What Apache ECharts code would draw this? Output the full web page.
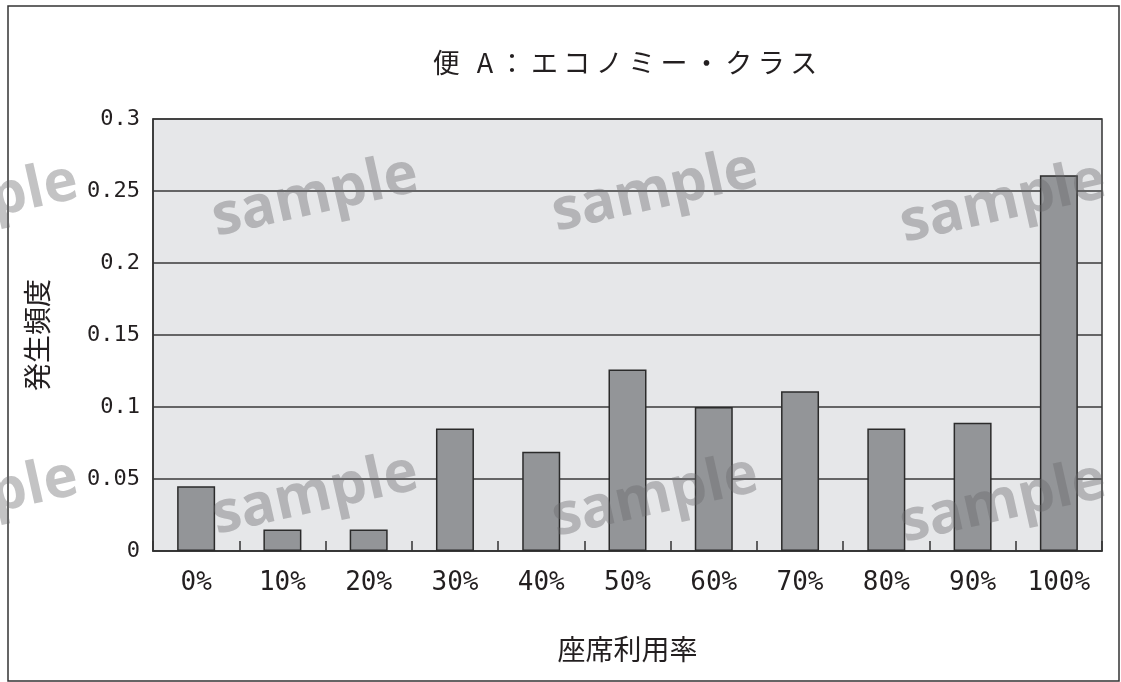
<!DOCTYPE html>
<html>
<head>
<meta charset="utf-8">
<title>便A：エコノミー・クラス</title>
<script src="https://cdn.jsdelivr.net/npm/echarts@6/dist/echarts.min.js"></script>
<style>
  html, body { margin: 0; padding: 0; background: #ffffff; }
  #chart { width: 1121px; height: 682px; }
</style>
</head>
<body>
<div id="chart"></div>
<script>
// Seat utilisation classes and the observed frequency for each
const categories = ['0%', '10%', '20%', '30%', '40%', '50%', '60%', '70%', '80%', '90%', '100%'];
const frequency = [0.045, 0.015, 0.015, 0.085, 0.069, 0.126, 0.1, 0.111, 0.085, 0.089, 0.261];

const titleText = '便 A：エコノミー・クラス';
const xAxisName = '座席利用率';
const yAxisName = '発生頻度';
const stampText = 'sample';

const yMin = 0;
const yMax = 0.3;
const yStep = 0.05;

const ink = '#231f20';
const lineInk = '#333333';
const jpFont = '"Noto Sans CJK JP", "Noto Sans", sans-serif';
const numFont = '"DejaVu Sans Mono", monospace';

// Faint diagonal stamps spread over the page
const stampSpots = [
  [-25, 204], [315, 197], [655, 192], [1003, 203],
  [-25, 500], [315, 495], [655, 497], [1003, 503]
];
const stamps = stampSpots.map(function (p) {
  return {
    type: 'text',
    x: p[0],
    y: p[1],
    rotation: 0.22,
    z: 100,
    silent: true,
    style: {
      text: stampText,
      font: 'bold 58px "Open Sans", sans-serif',
      fill: 'rgba(105,105,108,0.40)',
      align: 'center',
      verticalAlign: 'middle',
      shadowColor: 'rgba(105,105,108,0.35)',
      shadowBlur: 3
    }
  };
});

const chart = echarts.init(document.getElementById('chart'), null, { renderer: 'canvas' });

chart.setOption({
  animation: false,
  backgroundColor: '#ffffff',
  title: {
    text: titleText.split('').join('\u2009'),
    left: 620,
    top: 44,
    textAlign: 'center',
    textStyle: {
      fontFamily: jpFont,
      fontSize: 27,
      fontWeight: 'normal',
      color: ink
    }
  },
  grid: {
    left: 153,
    right: 19,
    top: 119,
    bottom: 131,
    show: true,
    backgroundColor: '#e6e7e9',
    borderColor: lineInk,
    borderWidth: 1.5
  },
  xAxis: {
    type: 'category',
    data: categories,
    name: xAxisName,
    nameLocation: 'middle',
    nameGap: 84,
    nameTextStyle: { fontFamily: jpFont, fontSize: 28, color: ink },
    axisLine: { show: true, lineStyle: { color: lineInk, width: 1.5 } },
    axisTick: { show: true, inside: true, length: 10, lineStyle: { color: lineInk, width: 1.5 } },
    axisLabel: { margin: 19, fontFamily: numFont, fontSize: 26, color: ink },
    splitLine: { show: false }
  },
  yAxis: {
    type: 'value',
    min: yMin,
    max: yMax,
    interval: yStep,
    name: yAxisName,
    nameLocation: 'middle',
    nameRotate: 90,
    nameGap: 102,
    nameTextStyle: { fontFamily: jpFont, fontSize: 28, color: ink },
    axisLine: { show: true, lineStyle: { color: lineInk, width: 1.5 } },
    axisTick: { show: false },
    axisLabel: { margin: 13, fontFamily: numFont, fontSize: 22, color: ink },
    splitLine: { show: true, lineStyle: { color: '#3a3a3a', width: 1.5 } }
  },
  series: [{
    type: 'bar',
    data: frequency,
    barWidth: 38,
    itemStyle: { color: '#939598', borderColor: '#2b2b2b', borderWidth: 1.5 }
  }],
  graphic: [{
    type: 'rect',
    silent: true,
    z: 90,
    shape: { x: 8, y: 6, width: 1111, height: 675 },
    style: { fill: 'none', stroke: lineInk, lineWidth: 1.5 }
  }].concat(stamps)
});
</script>
</body>
</html>
